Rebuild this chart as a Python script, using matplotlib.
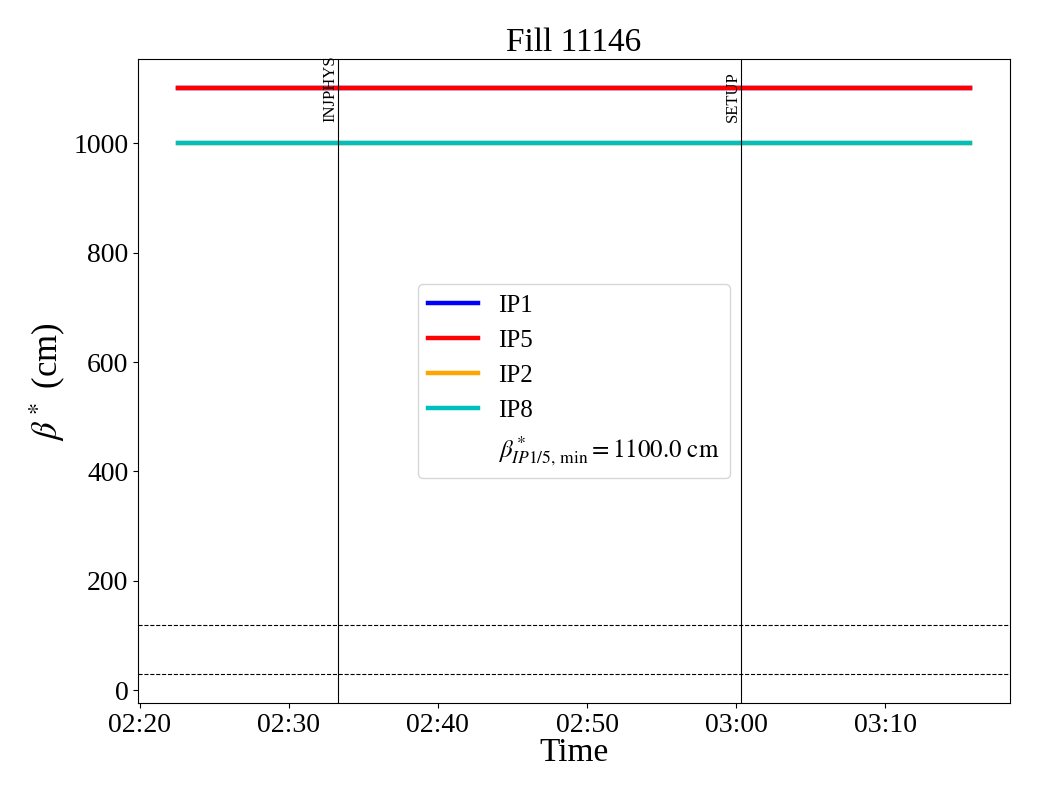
#!/usr/bin/env python3
"""Beta* per IP over time for one fill."""

from datetime import datetime

import matplotlib
matplotlib.use("Agg")
import matplotlib.pyplot as plt
import matplotlib.dates as mdates

plt.rcParams["font.family"] = ["Liberation Serif", "DejaVu Serif"]
plt.rcParams["mathtext.fontset"] = "stix"

FILL = 11146
DAY = "2025-08-20"

# time span of the beta* data (start, end)
times = [datetime.fromisoformat(f"{DAY} 02:22:33"), datetime.fromisoformat(f"{DAY} 03:15:42")]

ip_names = ["IP1", "IP5", "IP2", "IP8"]
ip_colors = ["blue", "red", "orange", "c"]
ip_beta = [[1100, 1100], [1100, 1100], [1000, 1000], [1000, 1000]]

beta_min_ip15 = 1100.0

mode_names = ["INJPHYS", "SETUP"]
mode_times = [datetime.fromisoformat(f"{DAY} 02:33:19"), datetime.fromisoformat(f"{DAY} 03:00:18")]

ref_levels = [120, 30]


def main():
    fig, ax = plt.subplots(figsize=(10.4, 8), dpi=100)

    for name, color, vals in zip(ip_names, ip_colors, ip_beta):
        ax.plot(times, vals, color=color, lw=3.2, label=name)

    ax.plot([], [], " ", label=r"$\beta^*_{IP1/5,\,\mathrm{min}} = %.1f\ \mathrm{cm}$" % beta_min_ip15)

    for lvl in ref_levels:
        ax.axhline(lvl, color="k", ls="--", lw=0.8)

    for name, t in zip(mode_names, mode_times):
        ax.axvline(t, color="k", lw=0.8)

    ax.xaxis.set_major_formatter(mdates.DateFormatter("%H:%M"))
    ax.xaxis.set_major_locator(mdates.MinuteLocator(byminute=range(0, 60, 10)))

    ymax = ax.get_ylim()[1]
    for name, t in zip(mode_names, mode_times):
        ax.text(t, 0.9 * ymax, name, rotation=90, ha="right", va="bottom", fontsize=12)

    ax.set_title(f"Fill {FILL}", fontsize=24)
    ax.set_xlabel("Time", fontsize=24, labelpad=0)
    ax.set_ylabel(r"$\beta^*$ (cm)", fontsize=25)
    ax.tick_params(labelsize=20)
    ax.legend(loc="center", fontsize=18)

    plt.subplots_adjust(left=0.1327, right=0.9712, top=0.926, bottom=0.121)
    plt.savefig("out.png", dpi=100)
    plt.close()


if __name__ == "__main__":
    main()
